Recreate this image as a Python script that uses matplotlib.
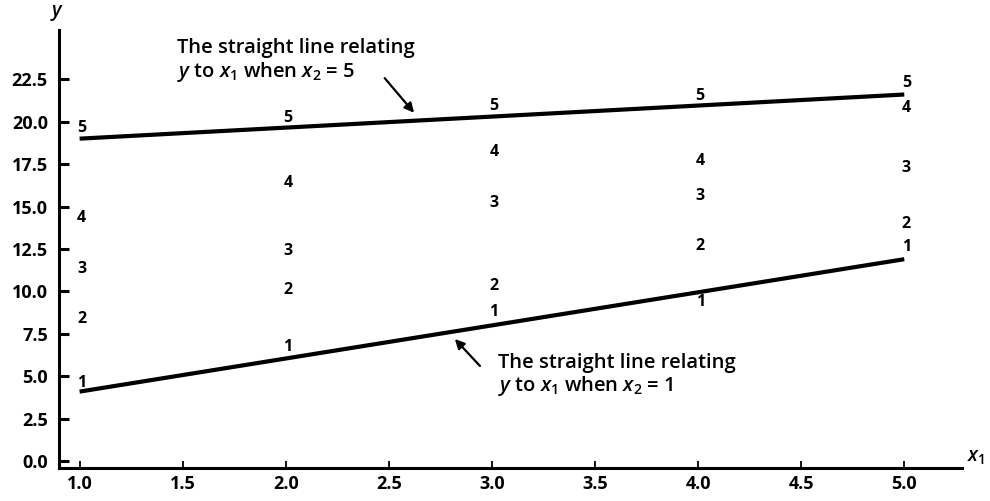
import matplotlib
matplotlib.use("Agg")
import matplotlib.pyplot as plt

# ---- data ----
x1_values = [1.0, 2.0, 3.0, 4.0, 5.0]
y_x2_1 = [4.6, 6.7, 8.8, 9.4, 12.6]
y_x2_2 = [8.4, 10.1, 10.3, 12.7, 14.0]
y_x2_3 = [11.3, 12.4, 15.2, 15.6, 17.3]
y_x2_4 = [14.3, 16.4, 18.2, 17.7, 20.8]
y_x2_5 = [19.6, 20.2, 20.9, 21.5, 22.3]
series = {"1": y_x2_1, "2": y_x2_2, "3": y_x2_3, "4": y_x2_4, "5": y_x2_5}

line_x = [1.0, 5.0]
line_x2_1 = [4.1, 11.9]
line_x2_5 = [19.0, 21.6]

x_ticks = [1.0, 1.5, 2.0, 2.5, 3.0, 3.5, 4.0, 4.5, 5.0]
y_ticks = [0.0, 2.5, 5.0, 7.5, 10.0, 12.5, 15.0, 17.5, 20.0, 22.5]

label_upper = "The straight line relating\n$y$ to $x_1$ when $x_2$ = 5"
label_lower = "The straight line relating\n$y$ to $x_1$ when $x_2$ = 1"

plt.rcParams['font.family'] = ['Open Sans', 'DejaVu Sans']
plt.rcParams['mathtext.fontset'] = 'custom'
plt.rcParams['mathtext.it'] = 'Open Sans:italic:semibold'
plt.rcParams['mathtext.rm'] = 'Open Sans:semibold'

fig = plt.figure(figsize=(9.9, 5.01), dpi=100)
ax = fig.add_axes([59/990, 33/501, (962-59)/990, (468-30)/501])
ax.set_xlim(0.9, 5.28)
ax.set_ylim(-0.4, 25.4)

for lab, ys in series.items():
    for xv, yv in zip(x1_values, ys):
        ax.text(xv + 0.01, yv, lab, ha='center', va='center', fontsize=11.5,
                fontweight='bold', color='black')

ax.plot(line_x, line_x2_5, color='black', lw=3.0, solid_capstyle='butt')
ax.plot(line_x, line_x2_1, color='black', lw=3.0, solid_capstyle='butt')

ax.text(1.472, 24.93, label_upper, ha='left', va='top', fontsize=14.5,
        fontweight='semibold', linespacing=1.1)
ax.annotate('', xy=(2.631, 20.4), xytext=(2.471, 22.69),
            arrowprops=dict(arrowstyle='-|>', color='black', lw=1.6,
                            mutation_scale=14))
ax.text(3.029, 6.4, label_lower, ha='left', va='top', fontsize=14.5,
        fontweight='semibold', linespacing=1.1)
ax.annotate('', xy=(2.811, 7.32), xytext=(2.951, 5.49),
            arrowprops=dict(arrowstyle='-|>', color='black', lw=1.6,
                            mutation_scale=14))

for s in ['top', 'right']:
    ax.spines[s].set_visible(False)
for s in ['left', 'bottom']:
    ax.spines[s].set_linewidth(2.2)

ax.set_xticks(x_ticks)
ax.set_xticklabels([f"{v:.1f}" for v in x_ticks], fontsize=13, fontweight='bold')
ax.set_yticks(y_ticks)
ax.set_yticklabels([f"{v:.1f}" for v in y_ticks], fontsize=13, fontweight='bold')
ax.tick_params(axis='y', direction='in', length=7, width=2.2, pad=8)
ax.tick_params(axis='x', direction='in', length=5, width=1.3, pad=5)

ax.text(0.89, 26.4, '$y$', ha='center', va='center', fontsize=14, clip_on=False)
ax.text(5.35, 0.2, '$x_1$', ha='center', va='center', fontsize=14, clip_on=False)

fig.savefig('out.png', dpi=100)
